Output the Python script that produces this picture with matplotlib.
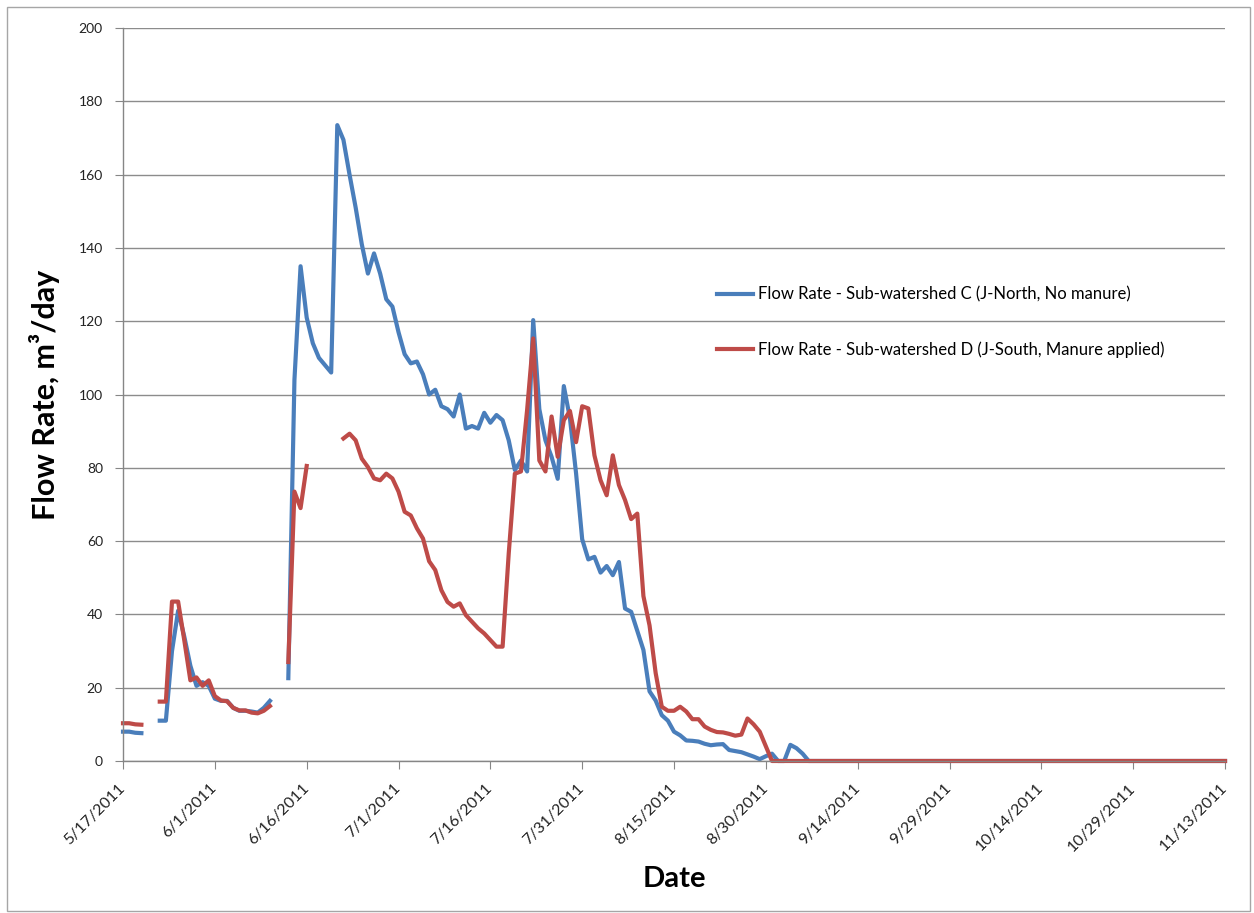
import numpy as np
import pandas as pd
import matplotlib
matplotlib.use("Agg")
import matplotlib.pyplot as plt
from matplotlib.patches import Rectangle
from matplotlib.transforms import ScaledTranslation

nan = np.nan

# daily flow, one value per day starting 5/17/2011, nan = no record
flow_c = [8.0, 8.0, 7.7, 7.6, nan, nan,
          11.0, 11.0, 30.0, 41.0, 34.0, 26.0, 20.5, 21.5, 20.5, 17.0, 16.4, 16.4,
          14.5, 13.7, 13.7, 13.5, 13.2, 14.5, 16.4, nan, nan,
          22.6, 104.0, 135.0, 121.0, 114.0, 110.0, 108.0, 106.0, 173.5, 169.5,
          160.0, 151.0, 141.0, 133.0, 138.5, 133.0, 126.0, 124.0, 117.0, 111.0,
          108.5, 109.0, 105.5, 100.0, 101.3, 96.8, 96.0, 94.0, 100.0, 90.7,
          91.4, 90.7, 95.0, 92.3, 94.4, 93.0, 87.5, 79.4, 82.0, 79.0,
          120.3, 96.0, 87.5, 83.0, 77.0, 102.3, 93.5, 78.5, 60.5, 55.0,
          55.7, 51.4, 53.2, 50.7, 54.3, 41.6, 40.7, 35.5, 30.3, 19.0,
          16.5, 12.5, 11.0, 8.0, 7.0, 5.6, 5.5, 5.3, 4.7, 4.3,
          4.5, 4.6, 3.0, 2.7, 2.4, 1.8, 1.2, 0.5, 1.3, 2.0,
          0.0, 0.0, 4.4, 3.5, 2.0] + [0.0] * 69  # flat at zero to 11/13

flow_d = [10.3, 10.3, 10.0, 9.9, nan, nan,
          16.2, 16.2, 43.5, 43.5, 33.0, 22.0, 22.8, 20.5, 22.0, 17.7, 16.5, 16.3,
          14.5, 13.8, 13.8, 13.2, 13.0, 13.7, 15.0, nan, nan,
          27.0, 73.5, 69.0, 80.5, nan, nan, nan, nan, nan,
          88.0, 89.3, 87.5, 82.5, 80.2, 77.1, 76.6, 78.4, 77.1, 73.5,
          68.0, 67.0, 63.5, 60.7, 54.5, 52.1, 46.6, 43.4, 42.1, 43.0,
          39.8, 38.0, 36.2, 34.8, 33.0, 31.2, 31.2, 56.6, 78.4, 79.0,
          95.7, 115.3, 82.0, 79.0, 94.0, 83.0, 93.0, 95.5, 87.0, 96.8,
          96.2, 83.4, 76.6, 72.5, 83.4, 75.3, 71.2, 66.0, 67.5, 45.0,
          37.0, 24.0, 14.8, 13.7, 13.7, 14.8, 13.5, 11.4, 11.4, 9.4,
          8.5, 7.9, 7.8, 7.4, 6.9, 7.2, 11.6, 10.0, 8.0, 4.0] + [0.0] * 75

label_c = "Flow Rate - Sub-watershed C (J-North, No manure)"
label_d = "Flow Rate - Sub-watershed D (J-South, Manure applied)"

start = pd.Timestamp("2011-05-17")
end = pd.Timestamp("2011-11-13")
x_tick_dates = pd.date_range(start, end, freq="15D")
y_ticks = list(range(0, 201, 20))

dates_c = pd.date_range(start, periods=len(flow_c), freq="D")
dates_d = pd.date_range(start, periods=len(flow_d), freq="D")

plt.rcParams["font.family"] = ["Lato", "DejaVu Sans"]

fig = plt.figure(figsize=(12.54, 9.13), dpi=100)
ax = fig.add_axes([0.0981, 0.1665, 0.8788, 0.8028])

blue = "#4A7EBB"
red = "#BE4B48"
ax.plot(dates_c, flow_c, color=blue, lw=3.0, solid_joinstyle="round", label=label_c, clip_on=False)
ax.plot(dates_d, flow_d, color=red, lw=3.0, solid_joinstyle="round", label=label_d, clip_on=False)

ax.set_xlim(start, end)
ax.set_ylim(0, 200)
ax.set_yticks(y_ticks)
ax.set_yticklabels([str(v) for v in y_ticks], fontsize=10, color="#222222")
ax.set_xticks(x_tick_dates)
ax.set_xticklabels([f"{d.month}/{d.day}/{d.year}" for d in x_tick_dates], fontsize=11.5,
                   color="#222222", rotation=45, ha="right", va="center", rotation_mode="anchor")
for lab in ax.get_xticklabels():
    lab.set_transform(lab.get_transform() + ScaledTranslation(0.11, 0, fig.dpi_scale_trans))

ax.tick_params(axis="x", direction="out", length=6, color="#868686", pad=12)
ax.tick_params(axis="y", direction="out", length=6, color="#868686", pad=8.5)
ax.grid(axis="y", color="#8c8c8c", lw=1)
ax.set_axisbelow(True)
for side in ["top", "right"]:
    ax.spines[side].set_visible(False)
for side in ["left", "bottom"]:
    ax.spines[side].set_color("#868686")
    ax.spines[side].set_linewidth(1)

ax.set_ylabel("Flow Rate, m³/day", fontsize=22, fontweight="bold")
ax.yaxis.set_label_coords(-0.057, 0.5)
ax.set_xlabel("Date", fontsize=21, fontweight="bold")
ax.xaxis.set_label_coords(0.5, -0.143)

ax.legend(loc="center left", bbox_to_anchor=(717 / 1254, 1 - 322 / 913), bbox_transform=fig.transFigure,
          frameon=False, fontsize=12, handlelength=2.16, handletextpad=0.3, labelspacing=2.3,
          borderpad=0, borderaxespad=0)

fig.patches.append(Rectangle((7 / 1254, 2 / 913), 1243 / 1254, 904 / 913, transform=fig.transFigure,
                             fill=False, edgecolor="#a6a6a6", lw=1))

fig.savefig("out.png", dpi=100)
